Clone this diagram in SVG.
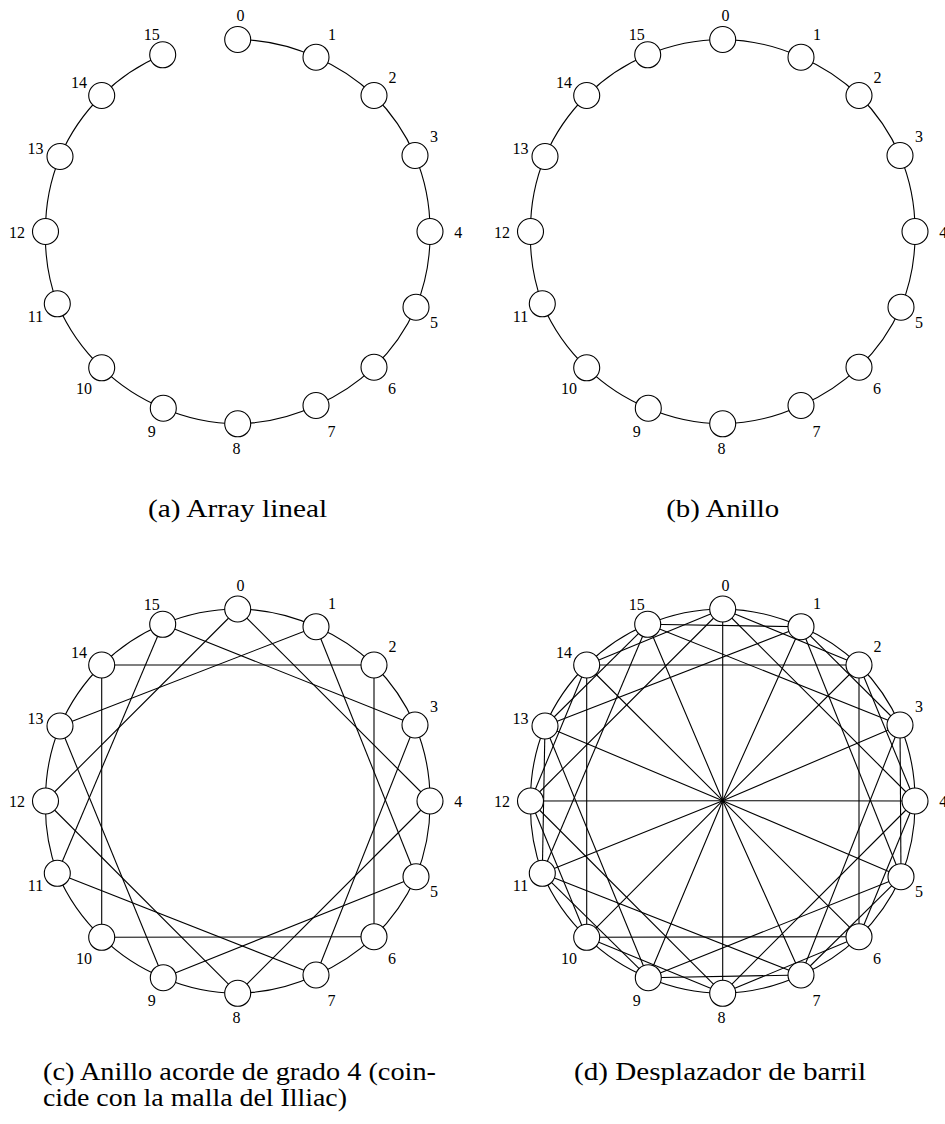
<svg xmlns="http://www.w3.org/2000/svg" width="945" height="1124" viewBox="0 0 945 1124">
<style>
.node{fill:#fff;stroke:#000;stroke-width:1.1}
.edge{fill:none;stroke:#000;stroke-width:1.1}
.lbl{font-family:"Liberation Serif",serif;font-size:16px;text-anchor:middle;fill:#000}
.cap{font-family:"Liberation Serif",serif;font-size:25px;fill:#000}
</style>
<rect width="945" height="1124" fill="#fff"/>
<g id="connectors">
  <g id="conn-a">
    <path class="edge" d="M237.7,39.5 A193,193 0 0 1 316,57.2 A193,193 0 0 1 374,95.5 A193,193 0 0 1 415,155.5 A193,193 0 0 1 430,231.5 A193,193 0 0 1 416,307.2 A193,193 0 0 1 374,367.2 A193,193 0 0 1 316,405.5 A193,193 0 0 1 237.7,423.8 A193,193 0 0 1 163.3,408.2 A193,193 0 0 1 101.7,367.8 A193,193 0 0 1 57.3,303.8 A193,193 0 0 1 45.5,231.5 A193,193 0 0 1 60,156.5 A193,193 0 0 1 101.7,95.5 A193,193 0 0 1 162.7,54.8"/>
  </g>
  <g id="conn-b" transform="translate(485,0)">
    <path class="edge" d="M237.7,39.5 A193,193 0 0 1 316,57.2 A193,193 0 0 1 374,95.5 A193,193 0 0 1 415,155.5 A193,193 0 0 1 430,231.5 A193,193 0 0 1 416,307.2 A193,193 0 0 1 374,367.2 A193,193 0 0 1 316,405.5 A193,193 0 0 1 237.7,423.8 A193,193 0 0 1 163.3,408.2 A193,193 0 0 1 101.7,367.8 A193,193 0 0 1 57.3,303.8 A193,193 0 0 1 45.5,231.5 A193,193 0 0 1 60,156.5 A193,193 0 0 1 101.7,95.5 A193,193 0 0 1 162.7,54.8 A193,193 0 0 1 237.7,39.5"/>
  </g>
  <g id="conn-c" transform="translate(0,569.5)">
    <path class="edge" d="M237.7,39.5 A193,193 0 0 1 316,57.2 A193,193 0 0 1 374,95.5 A193,193 0 0 1 415,155.5 A193,193 0 0 1 430,231.5 A193,193 0 0 1 416,307.2 A193,193 0 0 1 374,367.2 A193,193 0 0 1 316,405.5 A193,193 0 0 1 237.7,423.8 A193,193 0 0 1 163.3,408.2 A193,193 0 0 1 101.7,367.8 A193,193 0 0 1 57.3,303.8 A193,193 0 0 1 45.5,231.5 A193,193 0 0 1 60,156.5 A193,193 0 0 1 101.7,95.5 A193,193 0 0 1 162.7,54.8 A193,193 0 0 1 237.7,39.5"/>
    <line class="edge" x1="237.7" y1="39.5" x2="430" y2="231.5"/>
    <line class="edge" x1="316" y1="57.2" x2="416" y2="307.2"/>
    <line class="edge" x1="374" y1="95.5" x2="374" y2="367.2"/>
    <line class="edge" x1="415" y1="155.5" x2="316" y2="405.5"/>
    <line class="edge" x1="430" y1="231.5" x2="237.7" y2="423.8"/>
    <line class="edge" x1="416" y1="307.2" x2="163.3" y2="408.2"/>
    <line class="edge" x1="374" y1="367.2" x2="101.7" y2="367.8"/>
    <line class="edge" x1="316" y1="405.5" x2="57.3" y2="303.8"/>
    <line class="edge" x1="237.7" y1="423.8" x2="45.5" y2="231.5"/>
    <line class="edge" x1="163.3" y1="408.2" x2="60" y2="156.5"/>
    <line class="edge" x1="101.7" y1="367.8" x2="101.7" y2="95.5"/>
    <line class="edge" x1="57.3" y1="303.8" x2="162.7" y2="54.8"/>
    <line class="edge" x1="45.5" y1="231.5" x2="237.7" y2="39.5"/>
    <line class="edge" x1="60" y1="156.5" x2="316" y2="57.2"/>
    <line class="edge" x1="101.7" y1="95.5" x2="374" y2="95.5"/>
    <line class="edge" x1="162.7" y1="54.8" x2="415" y2="155.5"/>
  </g>
  <g id="conn-d" transform="translate(485,569.5)">
    <path class="edge" d="M237.7,39.5 A193,193 0 0 1 316,57.2 A193,193 0 0 1 374,95.5 A193,193 0 0 1 415,155.5 A193,193 0 0 1 430,231.5 A193,193 0 0 1 416,307.2 A193,193 0 0 1 374,367.2 A193,193 0 0 1 316,405.5 A193,193 0 0 1 237.7,423.8 A193,193 0 0 1 163.3,408.2 A193,193 0 0 1 101.7,367.8 A193,193 0 0 1 57.3,303.8 A193,193 0 0 1 45.5,231.5 A193,193 0 0 1 60,156.5 A193,193 0 0 1 101.7,95.5 A193,193 0 0 1 162.7,54.8 A193,193 0 0 1 237.7,39.5"/>
    <line class="edge" x1="237.7" y1="39.5" x2="430" y2="231.5"/>
    <line class="edge" x1="316" y1="57.2" x2="416" y2="307.2"/>
    <line class="edge" x1="374" y1="95.5" x2="374" y2="367.2"/>
    <line class="edge" x1="415" y1="155.5" x2="316" y2="405.5"/>
    <line class="edge" x1="430" y1="231.5" x2="237.7" y2="423.8"/>
    <line class="edge" x1="416" y1="307.2" x2="163.3" y2="408.2"/>
    <line class="edge" x1="374" y1="367.2" x2="101.7" y2="367.8"/>
    <line class="edge" x1="316" y1="405.5" x2="57.3" y2="303.8"/>
    <line class="edge" x1="237.7" y1="423.8" x2="45.5" y2="231.5"/>
    <line class="edge" x1="163.3" y1="408.2" x2="60" y2="156.5"/>
    <line class="edge" x1="101.7" y1="367.8" x2="101.7" y2="95.5"/>
    <line class="edge" x1="57.3" y1="303.8" x2="162.7" y2="54.8"/>
    <line class="edge" x1="45.5" y1="231.5" x2="237.7" y2="39.5"/>
    <line class="edge" x1="60" y1="156.5" x2="316" y2="57.2"/>
    <line class="edge" x1="101.7" y1="95.5" x2="374" y2="95.5"/>
    <line class="edge" x1="162.7" y1="54.8" x2="415" y2="155.5"/>
    <line class="edge" x1="237.7" y1="39.5" x2="374" y2="95.5"/>
    <line class="edge" x1="316" y1="57.2" x2="415" y2="155.5"/>
    <line class="edge" x1="374" y1="95.5" x2="430" y2="231.5"/>
    <line class="edge" x1="415" y1="155.5" x2="416" y2="307.2"/>
    <line class="edge" x1="430" y1="231.5" x2="374" y2="367.2"/>
    <line class="edge" x1="416" y1="307.2" x2="316" y2="405.5"/>
    <line class="edge" x1="374" y1="367.2" x2="237.7" y2="423.8"/>
    <line class="edge" x1="316" y1="405.5" x2="163.3" y2="408.2"/>
    <line class="edge" x1="237.7" y1="423.8" x2="101.7" y2="367.8"/>
    <line class="edge" x1="163.3" y1="408.2" x2="57.3" y2="303.8"/>
    <line class="edge" x1="101.7" y1="367.8" x2="45.5" y2="231.5"/>
    <line class="edge" x1="57.3" y1="303.8" x2="60" y2="156.5"/>
    <line class="edge" x1="45.5" y1="231.5" x2="101.7" y2="95.5"/>
    <line class="edge" x1="60" y1="156.5" x2="162.7" y2="54.8"/>
    <line class="edge" x1="101.7" y1="95.5" x2="237.7" y2="39.5"/>
    <line class="edge" x1="162.7" y1="54.8" x2="316" y2="57.2"/>
    <polyline class="edge" points="237.7,39.5 237.7,231.2 237.7,423.8"/>
    <polyline class="edge" points="316,57.2 237.7,231.2 163.3,408.2"/>
    <polyline class="edge" points="374,95.5 237.7,231.2 101.7,367.8"/>
    <polyline class="edge" points="415,155.5 237.7,231.2 57.3,303.8"/>
    <polyline class="edge" points="430,231.5 237.7,231.2 45.5,231.5"/>
    <polyline class="edge" points="416,307.2 237.7,231.2 60,156.5"/>
    <polyline class="edge" points="374,367.2 237.7,231.2 101.7,95.5"/>
    <polyline class="edge" points="316,405.5 237.7,231.2 162.7,54.8"/>
  </g>
</g>
<g id="panel-a">
  <g id="a0"><circle class="node" cx="237.7" cy="39.5" r="13"/><text class="lbl" x="240.5" y="21.2">0</text></g>
  <g id="a1"><circle class="node" cx="316" cy="57.2" r="13"/><text class="lbl" x="332" y="39.5">1</text></g>
  <g id="a2"><circle class="node" cx="374" cy="95.5" r="13"/><text class="lbl" x="392.5" y="82.7">2</text></g>
  <g id="a3"><circle class="node" cx="415" cy="155.5" r="13"/><text class="lbl" x="434" y="142">3</text></g>
  <g id="a4"><circle class="node" cx="430" cy="231.5" r="13"/><text class="lbl" x="458.3" y="237.5">4</text></g>
  <g id="a5"><circle class="node" cx="416" cy="307.2" r="13"/><text class="lbl" x="434" y="327.8">5</text></g>
  <g id="a6"><circle class="node" cx="374" cy="367.2" r="13"/><text class="lbl" x="392" y="394">6</text></g>
  <g id="a7"><circle class="node" cx="316" cy="405.5" r="13"/><text class="lbl" x="331.5" y="436.5">7</text></g>
  <g id="a8"><circle class="node" cx="237.7" cy="423.8" r="13"/><text class="lbl" x="236.5" y="453.5">8</text></g>
  <g id="a9"><circle class="node" cx="163.3" cy="408.2" r="13"/><text class="lbl" x="151.7" y="436.5">9</text></g>
  <g id="a10"><circle class="node" cx="101.7" cy="367.8" r="13"/><text class="lbl" x="84" y="394">10</text></g>
  <g id="a11"><circle class="node" cx="57.3" cy="303.8" r="13"/><text class="lbl" x="35.5" y="321.5">11</text></g>
  <g id="a12"><circle class="node" cx="45.5" cy="231.5" r="13"/><text class="lbl" x="17" y="237.5">12</text></g>
  <g id="a13"><circle class="node" cx="60" cy="156.5" r="13"/><text class="lbl" x="35.5" y="154">13</text></g>
  <g id="a14"><circle class="node" cx="101.7" cy="95.5" r="13"/><text class="lbl" x="79" y="88.3">14</text></g>
  <g id="a15"><circle class="node" cx="162.7" cy="54.8" r="13"/><text class="lbl" x="151.7" y="40">15</text></g>
</g>
<g id="panel-b" transform="translate(485,0)">
  <g id="b0"><circle class="node" cx="237.7" cy="39.5" r="13"/><text class="lbl" x="240.5" y="21.2">0</text></g>
  <g id="b1"><circle class="node" cx="316" cy="57.2" r="13"/><text class="lbl" x="332" y="39.5">1</text></g>
  <g id="b2"><circle class="node" cx="374" cy="95.5" r="13"/><text class="lbl" x="392.5" y="82.7">2</text></g>
  <g id="b3"><circle class="node" cx="415" cy="155.5" r="13"/><text class="lbl" x="434" y="142">3</text></g>
  <g id="b4"><circle class="node" cx="430" cy="231.5" r="13"/><text class="lbl" x="458.3" y="237.5">4</text></g>
  <g id="b5"><circle class="node" cx="416" cy="307.2" r="13"/><text class="lbl" x="434" y="327.8">5</text></g>
  <g id="b6"><circle class="node" cx="374" cy="367.2" r="13"/><text class="lbl" x="392" y="394">6</text></g>
  <g id="b7"><circle class="node" cx="316" cy="405.5" r="13"/><text class="lbl" x="331.5" y="436.5">7</text></g>
  <g id="b8"><circle class="node" cx="237.7" cy="423.8" r="13"/><text class="lbl" x="236.5" y="453.5">8</text></g>
  <g id="b9"><circle class="node" cx="163.3" cy="408.2" r="13"/><text class="lbl" x="151.7" y="436.5">9</text></g>
  <g id="b10"><circle class="node" cx="101.7" cy="367.8" r="13"/><text class="lbl" x="84" y="394">10</text></g>
  <g id="b11"><circle class="node" cx="57.3" cy="303.8" r="13"/><text class="lbl" x="35.5" y="321.5">11</text></g>
  <g id="b12"><circle class="node" cx="45.5" cy="231.5" r="13"/><text class="lbl" x="17" y="237.5">12</text></g>
  <g id="b13"><circle class="node" cx="60" cy="156.5" r="13"/><text class="lbl" x="35.5" y="154">13</text></g>
  <g id="b14"><circle class="node" cx="101.7" cy="95.5" r="13"/><text class="lbl" x="79" y="88.3">14</text></g>
  <g id="b15"><circle class="node" cx="162.7" cy="54.8" r="13"/><text class="lbl" x="151.7" y="40">15</text></g>
</g>
<g id="panel-c" transform="translate(0,569.5)">
  <g id="c0"><circle class="node" cx="237.7" cy="39.5" r="13"/><text class="lbl" x="240.5" y="21.2">0</text></g>
  <g id="c1"><circle class="node" cx="316" cy="57.2" r="13"/><text class="lbl" x="332" y="39.5">1</text></g>
  <g id="c2"><circle class="node" cx="374" cy="95.5" r="13"/><text class="lbl" x="392.5" y="82.7">2</text></g>
  <g id="c3"><circle class="node" cx="415" cy="155.5" r="13"/><text class="lbl" x="434" y="142">3</text></g>
  <g id="c4"><circle class="node" cx="430" cy="231.5" r="13"/><text class="lbl" x="458.3" y="237.5">4</text></g>
  <g id="c5"><circle class="node" cx="416" cy="307.2" r="13"/><text class="lbl" x="434" y="327.8">5</text></g>
  <g id="c6"><circle class="node" cx="374" cy="367.2" r="13"/><text class="lbl" x="392" y="394">6</text></g>
  <g id="c7"><circle class="node" cx="316" cy="405.5" r="13"/><text class="lbl" x="331.5" y="436.5">7</text></g>
  <g id="c8"><circle class="node" cx="237.7" cy="423.8" r="13"/><text class="lbl" x="236.5" y="453.5">8</text></g>
  <g id="c9"><circle class="node" cx="163.3" cy="408.2" r="13"/><text class="lbl" x="151.7" y="436.5">9</text></g>
  <g id="c10"><circle class="node" cx="101.7" cy="367.8" r="13"/><text class="lbl" x="84" y="394">10</text></g>
  <g id="c11"><circle class="node" cx="57.3" cy="303.8" r="13"/><text class="lbl" x="35.5" y="321.5">11</text></g>
  <g id="c12"><circle class="node" cx="45.5" cy="231.5" r="13"/><text class="lbl" x="17" y="237.5">12</text></g>
  <g id="c13"><circle class="node" cx="60" cy="156.5" r="13"/><text class="lbl" x="35.5" y="154">13</text></g>
  <g id="c14"><circle class="node" cx="101.7" cy="95.5" r="13"/><text class="lbl" x="79" y="88.3">14</text></g>
  <g id="c15"><circle class="node" cx="162.7" cy="54.8" r="13"/><text class="lbl" x="151.7" y="40">15</text></g>
</g>
<g id="panel-d" transform="translate(485,569.5)">
  <g id="d0"><circle class="node" cx="237.7" cy="39.5" r="13"/><text class="lbl" x="240.5" y="21.2">0</text></g>
  <g id="d1"><circle class="node" cx="316" cy="57.2" r="13"/><text class="lbl" x="332" y="39.5">1</text></g>
  <g id="d2"><circle class="node" cx="374" cy="95.5" r="13"/><text class="lbl" x="392.5" y="82.7">2</text></g>
  <g id="d3"><circle class="node" cx="415" cy="155.5" r="13"/><text class="lbl" x="434" y="142">3</text></g>
  <g id="d4"><circle class="node" cx="430" cy="231.5" r="13"/><text class="lbl" x="458.3" y="237.5">4</text></g>
  <g id="d5"><circle class="node" cx="416" cy="307.2" r="13"/><text class="lbl" x="434" y="327.8">5</text></g>
  <g id="d6"><circle class="node" cx="374" cy="367.2" r="13"/><text class="lbl" x="392" y="394">6</text></g>
  <g id="d7"><circle class="node" cx="316" cy="405.5" r="13"/><text class="lbl" x="331.5" y="436.5">7</text></g>
  <g id="d8"><circle class="node" cx="237.7" cy="423.8" r="13"/><text class="lbl" x="236.5" y="453.5">8</text></g>
  <g id="d9"><circle class="node" cx="163.3" cy="408.2" r="13"/><text class="lbl" x="151.7" y="436.5">9</text></g>
  <g id="d10"><circle class="node" cx="101.7" cy="367.8" r="13"/><text class="lbl" x="84" y="394">10</text></g>
  <g id="d11"><circle class="node" cx="57.3" cy="303.8" r="13"/><text class="lbl" x="35.5" y="321.5">11</text></g>
  <g id="d12"><circle class="node" cx="45.5" cy="231.5" r="13"/><text class="lbl" x="17" y="237.5">12</text></g>
  <g id="d13"><circle class="node" cx="60" cy="156.5" r="13"/><text class="lbl" x="35.5" y="154">13</text></g>
  <g id="d14"><circle class="node" cx="101.7" cy="95.5" r="13"/><text class="lbl" x="79" y="88.3">14</text></g>
  <g id="d15"><circle class="node" cx="162.7" cy="54.8" r="13"/><text class="lbl" x="151.7" y="40">15</text></g>
</g>
<g id="captions">
  <text class="cap" x="237.6" y="517" text-anchor="middle" textLength="179" lengthAdjust="spacingAndGlyphs">(a) Array lineal</text>
  <text class="cap" x="722.7" y="517" text-anchor="middle" textLength="113" lengthAdjust="spacingAndGlyphs">(b) Anillo</text>
  <text class="cap" x="43" y="1080" textLength="393" lengthAdjust="spacingAndGlyphs">(c) Anillo acorde de grado 4 (coin-</text>
  <text class="cap" x="43" y="1105.5" textLength="304" lengthAdjust="spacingAndGlyphs">cide con la malla del Illiac)</text>
  <text class="cap" x="720" y="1080" text-anchor="middle" textLength="292" lengthAdjust="spacingAndGlyphs">(d) Desplazador de barril</text>
</g>
</svg>
